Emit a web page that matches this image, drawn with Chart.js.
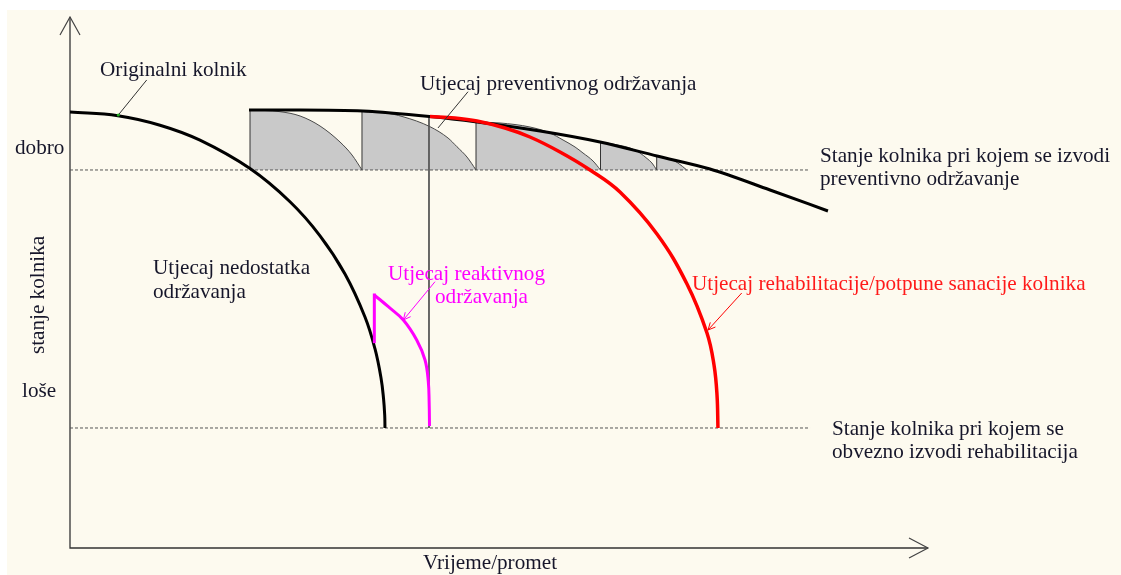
<!DOCTYPE html>
<html><head><meta charset="utf-8">
<script src="https://cdn.jsdelivr.net/npm/chart.js@4.4.1/dist/chart.umd.min.js"></script>
<style>html,body{margin:0;padding:0;background:#fff;} canvas{display:block;}</style>
</head><body>
<canvas id="c" width="1121" height="575"></canvas>
<script>
// ---- values (x = vrijeme/promet 0..100, y = stanje kolnika 0..100) ----
const originalPavement = [[0,82.11],[5.59,81.41],[10.49,79.62],[15.15,76.8],[20.98,71.45],[25.64,65.2],[29.14,58.79],[32.05,51.6],[34.38,43.5],[35.55,37.48],[36.25,32.02],[36.54,28.2],[36.68,25.0],[36.71,22.6]];
const preventiveEnvelope = [[20.86,82.49],[26.81,82.49],[34.15,82.3],[41.96,81.26],[47.44,80.23],[54.78,78.53],[61.77,76.46],[68.41,73.82],[74.59,71.37],[81.59,67.42],[88.34,63.47]];
const cycle1 = [[20.98,82.49],[24.48,82.17],[26.81,81.36],[29.14,79.47],[31.47,76.46],[32.87,74.01],[34.03,71.19]];
const cycle2 = [[34.03,82.3],[34.15,82.2],[36.71,81.92],[38.81,81.22],[41.96,79.34],[44.06,77.21],[45.1,75.57],[46.27,73.63],[47.32,71.19]];
const cycle3 = [[47.32,80.23],[50.12,80.04],[53.61,79.28],[55.94,78.15],[57.46,76.84],[58.86,75.52],[59.79,74.39],[60.96,72.88],[61.83,71.19]];
const cycle4 = [[61.83,76.46],[63.52,75.99],[65.27,75.33],[66.43,74.39],[67.25,73.35],[67.83,72.5],[68.38,71.19]];
const cycle5 = [[68.38,73.82],[69.7,73.35],[70.86,72.5],[71.88,71.19]];
const treatmentTimes = [20.98,34.03,47.32,61.83,68.38];
const treatmentTops = [82.49,82.3,80.23,76.46,73.82];
const rehabilitationCurve = [[41.96,81.26],[44.87,80.98],[47.44,80.41],[50.7,79.1],[53.61,77.4],[57.11,74.58],[60.61,71.19],[64.1,67.04],[68.41,59.13],[71.91,49.72],[74.24,40.49],[75.06,34.46],[75.41,28.81],[75.52,22.6]];
const reactiveJump = [[35.47,38.85],[35.47,47.65]];
const reactiveCurve = [[35.47,47.65],[37.1,45.44],[38.85,42.94],[40.41,39.17],[41.38,35.4],[41.76,31.32],[41.86,27.31],[41.9,22.98]];
const reactiveTimeLine = [[41.84,81.26],[41.84,22.6]];
const preventiveThreshold = 71.19;
const rehabThreshold = 22.6;
const thresholdEnds = [86.01, 86.25];
const pointerOriginal = [[8.94,88.14],[5.63,81.54]];
const pointerPreventive = [[46.39,85.93],[42.89,79.1]];
const pointerReactive = [[42.54,50.15],[38.85,42.94]];
const pointerRehab = [[78.29,48.02],[74.36,41.05]];
const labelTexts = ['Originalni kolnik','Utjecaj preventivnog održavanja','dobro','Stanje kolnika pri kojem se izvodi','preventivno održavanje','Utjecaj nedostatka','održavanja','Utjecaj reaktivnog','održavanja','Utjecaj rehabilitacije/potpune sanacije kolnika','loše','Stanje kolnika pri kojem se','obvezno izvodi rehabilitacija','stanje kolnika','Vrijeme/promet'];

// ---- styles ----
const TXT = '#16162a';
const MAGENTA = '#ff00ff';
const RED = '#ff0000';
const GRAY_FILL = '#c9c9c9';
const toPts = a => a.map(p => ({x:p[0], y:p[1]}));

const datasets = [];
function line(data, o){ datasets.push(Object.assign({data: toPts(data), showLine:true, pointRadius:0, borderWidth:1, borderColor:'#333', fill:false, tension:0}, o)); }

[cycle1,cycle2,cycle3,cycle4,cycle5].forEach(c => line(c, {fill:{value:preventiveThreshold}, backgroundColor:GRAY_FILL, borderColor:'#4a4a4a', borderWidth:1, cubicInterpolationMode:'monotone', order:20}));
treatmentTimes.forEach((t,i) => line([[t,preventiveThreshold],[t,treatmentTops[i]]], {borderColor:'#333', borderWidth:1, order:19}));
line(reactiveTimeLine, {borderColor:'#555', borderWidth:1, order:18});
line([[0,preventiveThreshold],[thresholdEnds[0],preventiveThreshold]], {borderColor:'#555', borderDash:[3,2], borderWidth:1, order:17});
line([[0,rehabThreshold],[thresholdEnds[1],rehabThreshold]], {borderColor:'#555', borderDash:[3,2], borderWidth:1, order:17});
line(preventiveEnvelope, {borderColor:'#000', borderWidth:3, cubicInterpolationMode:'monotone', order:10});
line(originalPavement, {borderColor:'#000', borderWidth:3, tension:0.4, order:10});
line(rehabilitationCurve, {borderColor:RED, borderWidth:3.5, tension:0.4, order:8});
line(reactiveJump, {borderColor:MAGENTA, borderWidth:3, borderCapStyle:'square', order:7});
line(reactiveCurve, {borderColor:MAGENTA, borderWidth:3, tension:0.4, order:7});
line(pointerOriginal, {borderColor:'#333', borderWidth:1, order:5, pointRadius:[0,1.6], pointBackgroundColor:'#22aa22', pointBorderWidth:0});
line(pointerPreventive, {borderColor:'#333', borderWidth:1, order:5});
line(pointerReactive, {borderColor:MAGENTA, borderWidth:1, order:5, arrowHead:true});
line(pointerRehab, {borderColor:RED, borderWidth:1, order:5, arrowHead:true});

const FONT = '21.2px "Liberation Serif", "Times New Roman", serif';
const notes = [
  {t:0, x:3.5, y:88.89, c:TXT},
  {t:1, x:40.79, y:86.25, c:TXT},
  {t:2, x:-6.41, y:74.2, c:TXT},
  {t:3, x:87.41, y:72.69, c:TXT},
  {t:4, x:87.41, y:68.36, c:TXT},
  {t:5, x:9.67, y:51.6, c:TXT},
  {t:6, x:9.67, y:47.08, c:TXT},
  {t:7, x:37.06, y:50.47, c:MAGENTA},
  {t:8, x:42.54, y:46.14, c:MAGENTA},
  {t:9, x:72.49, y:48.59, c:'#ff1a1a'},
  {t:10, x:-5.59, y:28.44, c:TXT},
  {t:11, x:88.81, y:21.28, c:TXT},
  {t:12, x:88.81, y:16.95, c:TXT},
  {t:14, x:41.14, y:-3.95, c:TXT}
];

const decor = {
  id:'decor',
  beforeDraw(chart){
    const ctx = chart.ctx;
    ctx.save();
    ctx.fillStyle = '#ffffff';
    ctx.fillRect(0,0,chart.width,chart.height);
    ctx.fillStyle = '#fdfaef';
    ctx.fillRect(7,10,chart.width-7,chart.height-10);
    ctx.restore();
  },
  beforeDatasetsDraw(chart){
    const ctx = chart.ctx, a = chart.chartArea;
    ctx.save();
    ctx.strokeStyle = '#333';
    ctx.lineWidth = 1.3;
    ctx.beginPath();
    ctx.moveTo(a.left, a.top); ctx.lineTo(a.left, a.bottom); ctx.lineTo(a.right, a.bottom);
    ctx.stroke();
    ctx.lineWidth = 1.2;
    ctx.strokeStyle = '#444';
    ctx.beginPath();
    ctx.moveTo(a.left-10, a.top+18); ctx.lineTo(a.left, a.top); ctx.lineTo(a.left+10, a.top+18);
    ctx.moveTo(a.right-19, a.bottom-10); ctx.lineTo(a.right, a.bottom); ctx.lineTo(a.right-19, a.bottom+10);
    ctx.stroke();
    ctx.restore();
  },
  afterDatasetsDraw(chart){
    const ctx = chart.ctx, xs = chart.scales.x, ys = chart.scales.y;
    ctx.save();
    chart.data.datasets.forEach(ds => {
      if (!ds.arrowHead) return;
      const p = ds.data, n = p.length;
      const x1 = xs.getPixelForValue(p[n-2].x), y1 = ys.getPixelForValue(p[n-2].y);
      const x2 = xs.getPixelForValue(p[n-1].x), y2 = ys.getPixelForValue(p[n-1].y);
      const ang = Math.atan2(y2-y1, x2-x1), L = 8, w = 0.45;
      ctx.strokeStyle = ds.borderColor; ctx.lineWidth = 1;
      ctx.beginPath();
      ctx.moveTo(x2 - L*Math.cos(ang-w), y2 - L*Math.sin(ang-w));
      ctx.lineTo(x2, y2);
      ctx.lineTo(x2 - L*Math.cos(ang+w), y2 - L*Math.sin(ang+w));
      ctx.stroke();
    });
    ctx.font = FONT;
    ctx.textBaseline = 'alphabetic';
    ctx.textAlign = 'left';
    notes.forEach(n => {
      ctx.fillStyle = n.c;
      ctx.fillText(labelTexts[n.t], xs.getPixelForValue(n.x), ys.getPixelForValue(n.y));
    });
    ctx.save();
    ctx.translate(xs.getPixelForValue(-3.73), ys.getPixelForValue(47.65));
    ctx.rotate(-Math.PI/2);
    ctx.textAlign = 'center';
    ctx.textBaseline = 'middle';
    ctx.fillStyle = TXT;
    ctx.fillText(labelTexts[13], 0, 0);
    ctx.restore();
    ctx.restore();
  }
};

new Chart(document.getElementById('c'), {
  type:'scatter',
  data:{datasets},
  options:{
    responsive:false,
    devicePixelRatio:1,
    animation:false,
    layout:{padding:{left:70, right:193, top:17, bottom:27}},
    plugins:{legend:{display:false}, tooltip:{enabled:false}},
    scales:{
      x:{type:'linear', min:0, max:100, display:false},
      y:{type:'linear', min:0, max:100, display:false}
    }
  },
  plugins:[decor]
});
</script>
</body></html>
